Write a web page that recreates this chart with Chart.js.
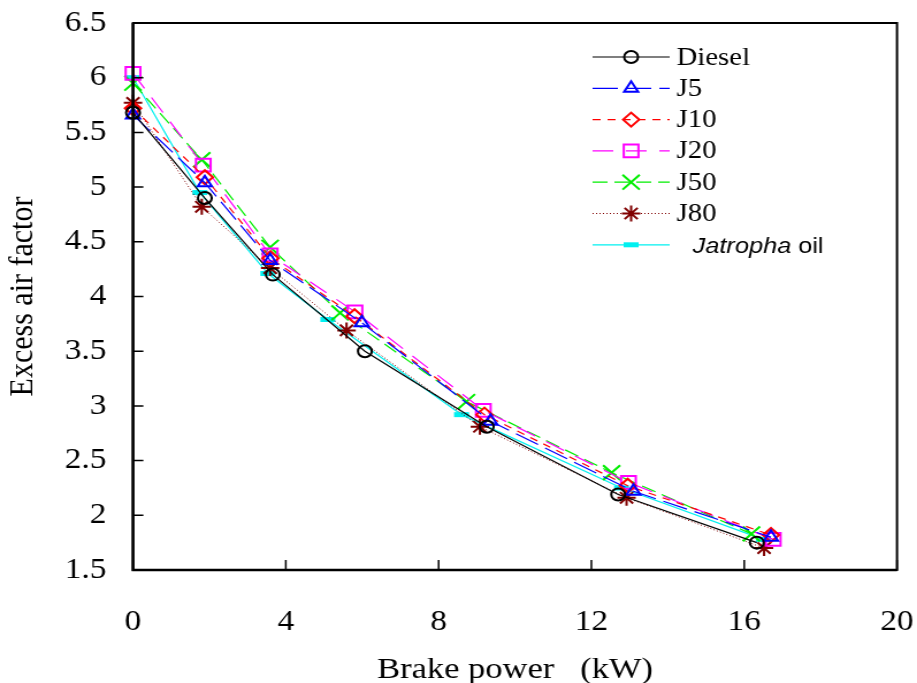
<!DOCTYPE html>
<html>
<head>
<meta charset="utf-8">
<script src="https://cdn.jsdelivr.net/npm/chart.js@4.4.0/dist/chart.umd.min.js"></script>
<style>
  html, body { margin: 0; padding: 0; background: #fff; overflow: hidden; }
  /* the original figure is stretched sideways, so the canvas is too */
  #wrap { width: 797px; height: 683px; transform: scaleX(1.1506); transform-origin: 0 0; }
</style>
</head>
<body>
<div id="wrap"><canvas id="chart" width="797" height="683"></canvas></div>
<script>
// Brake power (kW) and excess air factor per fuel
const dieselPower = [0, 1.88, 3.66, 6.07, 9.26, 12.7, 16.33]
const dieselFactor = [5.68, 4.9, 4.2, 3.5, 2.81, 2.19, 1.75]

const j5Power = [0, 1.88, 3.59, 5.99, 9.36, 13.1, 16.7]
const j5Factor = [5.66, 5.04, 4.33, 3.76, 2.86, 2.22, 1.8]

const j10Power = [0, 1.88, 3.6, 5.8, 9.2, 12.95, 16.7]
const j10Factor = [5.72, 5.09, 4.35, 3.82, 2.92, 2.27, 1.82]

const j20Power = [0, 1.84, 3.59, 5.81, 9.17, 12.97, 16.76]
const j20Factor = [6.04, 5.2, 4.38, 3.86, 2.96, 2.3, 1.78]

const j50Power = [0, 1.8, 3.59, 5.42, 8.73, 12.53, 16.19]
const j50Factor = [5.95, 5.25, 4.45, 3.85, 3.04, 2.39, 1.83]

const j80Power = [0, 1.8, 3.59, 5.59, 9.08, 12.92, 16.52]
const j80Factor = [5.77, 4.82, 4.26, 3.69, 2.81, 2.16, 1.7]

const jatrophaPower = [0, 1.75, 3.53, 5.1, 8.6, 12.79, 16.5]
const jatrophaFactor = [6.0, 4.95, 4.21, 3.79, 2.92, 2.25, 1.78]

const xTickValues = [0, 4, 8, 12, 16, 20]
const yTickValues = [1.5, 2, 2.5, 3, 3.5, 4, 4.5, 5, 5.5, 6, 6.5]

const toPoints = (xs, ys) => xs.map((x, i) => ({ x: x, y: ys[i] }))

const serif = "'Liberation Serif', 'Times New Roman', serif"

const makeSet = (label, xs, ys, color, style) => Object.assign({
  label: label,
  data: toPoints(xs, ys),
  borderColor: color,
  backgroundColor: 'transparent',
  pointBorderColor: color,
  pointBackgroundColor: 'transparent',
  borderWidth: 1.2,
  pointBorderWidth: 2,
  tension: 0,
  clip: false,
}, style)

const datasets = [
  makeSet('Diesel', dieselPower, dieselFactor, '#000000', { pointStyle: 'circle', pointRadius: 6 }),
  makeSet('J5', j5Power, j5Factor, '#0000ff', { pointStyle: 'triangle', pointRadius: 7, borderDash: [22, 7] }),
  makeSet('J10', j10Power, j10Factor, '#ff0000', { pointStyle: 'rectRot', pointRadius: 7, borderDash: [7, 6] }),
  makeSet('J20', j20Power, j20Factor, '#ff00ff', { pointStyle: 'rect', pointRadius: 9, borderDash: [18, 11] }),
  makeSet('J50', j50Power, j50Factor, '#00ee00', { pointStyle: 'crossRot', pointRadius: 10.5, borderDash: [13, 6] }),
  makeSet('J80', j80Power, j80Factor, '#800000', { pointStyle: 'star', pointRadius: 8, borderDash: [1, 2], borderWidth: 1 }),
  makeSet('Jatropha oil', jatrophaPower, jatrophaFactor, '#00f0f0', { pointStyle: 'line', pointRadius: 6.5, pointBorderWidth: 5 }),
]

// Box round the plot with short ticks pointing inwards
const frame = {
  id: 'frame',
  afterDraw(chart) {
    const { ctx, chartArea: a, scales: { x, y } } = chart
    ctx.save()
    ctx.strokeStyle = '#000'
    ctx.lineWidth = 2
    ctx.strokeRect(a.left, a.top, a.right - a.left, a.bottom - a.top)
    ctx.lineWidth = 2.4
    ctx.beginPath()
    ctx.moveTo(a.left, a.top)
    ctx.lineTo(a.left, a.bottom)
    ctx.lineTo(a.right, a.bottom)
    ctx.stroke()
    ctx.lineWidth = 1.5
    ctx.beginPath()
    xTickValues.forEach(v => {
      const px = x.getPixelForValue(v)
      ctx.moveTo(px, a.bottom)
      ctx.lineTo(px, a.bottom - 10)
    })
    yTickValues.forEach(v => {
      const py = y.getPixelForValue(v)
      ctx.moveTo(a.left, py)
      ctx.lineTo(a.left + 9, py)
    })
    ctx.stroke()
    ctx.restore()
  }
}

// Legend inside the plot: line sample with the marker in the middle
const legendBox = {
  id: 'legendBox',
  afterDatasetsDraw(chart) {
    const ctx = chart.ctx
    chart.data.datasets.forEach((ds, i) => {
      const rowY = 57 + i * 31.3
      ctx.save()
      ctx.strokeStyle = ds.borderColor
      ctx.lineWidth = ds.borderWidth
      ctx.setLineDash(ds.borderDash || [])
      ctx.beginPath()
      ctx.moveTo(515, rowY)
      ctx.lineTo(582, rowY)
      ctx.stroke()
      ctx.setLineDash([])
      ctx.strokeStyle = ds.pointBorderColor
      ctx.fillStyle = 'transparent'
      ctx.lineWidth = ds.pointBorderWidth
      Chart.helpers.drawPoint(ctx, { pointStyle: ds.pointStyle, radius: ds.pointRadius, borderWidth: ds.pointBorderWidth, rotation: 0 }, 548.5, rowY)
      ctx.fillStyle = '#000'
      ctx.textBaseline = 'middle'
      if (ds.label === 'Jatropha oil') {
        ctx.font = "italic 22px 'Liberation Sans', Arial, sans-serif"
        ctx.fillText('Jatropha', 602, rowY + 2)
        const w = ctx.measureText('Jatropha').width
        ctx.font = "22px 'Liberation Sans', Arial, sans-serif"
        ctx.fillText(' oil', 602 + w, rowY + 2)
      } else {
        ctx.font = '25px ' + serif
        ctx.fillText(ds.label, 588, rowY + 1)
      }
      ctx.restore()
    })
  }
}

const tickFont = { family: serif, size: 29 }
const titleFont = { family: serif, size: 30, lineHeight: 1 }

new Chart(document.getElementById('chart').getContext('2d'), {
  type: 'line',
  data: { datasets: datasets },
  options: {
    responsive: false,
    animation: false,
    devicePixelRatio: 1,
    layout: { padding: { top: 23, right: 17.4, left: 0, bottom: 0 } },
    plugins: { legend: { display: false }, tooltip: { enabled: false } },
    scales: {
      x: {
        type: 'linear',
        min: 0,
        max: 20,
        afterBuildTicks: s => { s.ticks = xTickValues.map(v => ({ value: v })) },
        ticks: { padding: 35, color: '#000', font: tickFont, maxRotation: 0 },
        grid: { display: false, drawTicks: false },
        border: { display: false },
        title: { display: true, text: 'Brake power   (kW)', color: '#000', font: titleFont, padding: { top: 0, bottom: -2 } },
        afterFit: s => { s.height = 113; s.paddingLeft = 0; s.paddingRight = 0 },
      },
      y: {
        type: 'linear',
        min: 1.5,
        max: 6.5,
        afterBuildTicks: s => { s.ticks = yTickValues.map(v => ({ value: v })) },
        ticks: { padding: 23, color: '#000', font: tickFont, callback: v => String(v) },
        grid: { display: false, drawTicks: false },
        border: { display: false },
        title: { display: true, text: 'Excess air factor', color: '#000', font: titleFont, padding: { top: 5, bottom: 0 } },
        afterFit: s => { s.width = 115.6; s.paddingTop = 0; s.paddingBottom = 0 },
      },
    },
  },
  plugins: [frame, legendBox],
})
</script>
</body>
</html>
